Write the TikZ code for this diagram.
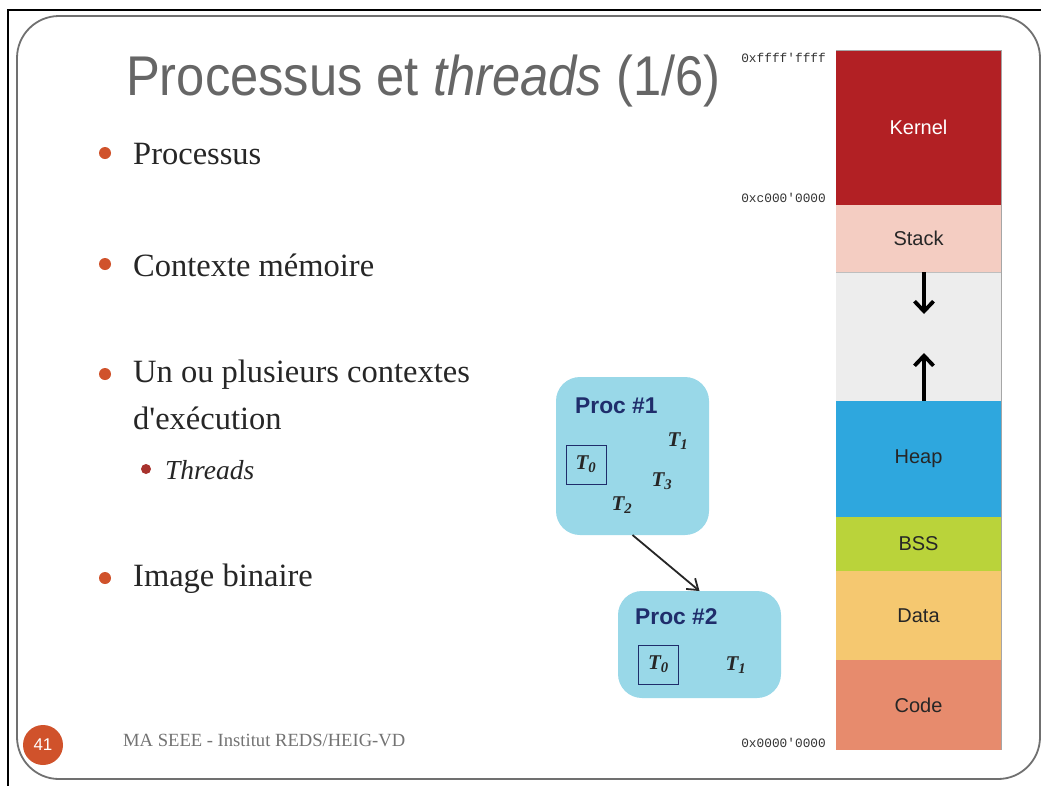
\documentclass[tikz,border=0pt]{standalone}
\usepackage{fontspec}
\setmainfont{Liberation Serif}
\newfontfamily\arialf{Liberation Sans}
\newfontfamily\monof{Liberation Mono}
\usetikzlibrary{arrows.meta}
\definecolor{titlegray}{HTML}{666666}
\definecolor{bulorange}{HTML}{D0522B}
\definecolor{bulred}{HTML}{A8322D}
\definecolor{kernelc}{HTML}{B22024}
\definecolor{stackc}{HTML}{F4CDC2}
\definecolor{gapc}{HTML}{EDEDED}
\definecolor{heapc}{HTML}{2EA7DE}
\definecolor{bssc}{HTML}{BAD33A}
\definecolor{datac}{HTML}{F5C870}
\definecolor{codec}{HTML}{E78B6D}
\definecolor{procc}{HTML}{99D8E8}
\definecolor{navy}{HTML}{1F2D6B}
\definecolor{framegray}{HTML}{707070}
\tikzset{
  seg/.style={minimum width=165pt, inner sep=0pt, outer sep=0pt, font=\arialf\fontsize{20}{22}\selectfont, text=black!85},
  addr/.style={anchor=east, font=\monof\fontsize{12.8}{14}\selectfont, text=black!80, inner sep=0pt},
  bul/.style={anchor=west, font=\fontsize{32.5}{36}\selectfont, text=black!85, inner sep=0pt},
  dot/.style={circle, fill=bulorange, inner sep=0pt, minimum size=12pt},
  procbox/.style={rounded corners=24pt, fill=procc, inner sep=0pt, outer sep=0pt},
  proctitle/.style={font=\arialf\bfseries\fontsize{22.8}{25}\selectfont, text=navy, inner sep=0pt},
  thr/.style={font=\bfseries\itshape\fontsize{21}{23}\selectfont, text=black!85, inner sep=0pt},
  thrbox/.style={draw=navy, line width=1pt, minimum width=40pt, minimum height=39pt, inner sep=0pt},
  memarrow/.style={line width=3.8pt, -{Straight Barb[length=10pt, width=19pt, line width=3.8pt]}},
}
\begin{document}
\begin{tikzpicture}[x=1pt, y=-1pt]
\useasboundingbox (0,0) rectangle (1041,785);
\fill[white] (0,0) rectangle (1041,785);
% outer frame
\draw[line width=2.2pt] (8,1000) -- (8,10) -- (1100,10);
\draw[framegray, line width=1.8pt, rounded corners=42pt] (17,16) rectangle (1040,779);
% title
\node[anchor=west, inner sep=0pt, text=titlegray, font=\arialf\fontsize{56}{60}\selectfont, xscale=0.905] (title) at (126,81) {Processus et \textit{threads} (1/6)};
% bullets
\node[bul] (b1) at (133,154) {Processus};
\node[bul] (b2) at (133,265) {Contexte mémoire};
\node[bul] (b3) at (133,375) {Un ou plusieurs contextes};
\node[bul] (b3b) at (133,418) {d\textquotesingle exécution};
\node[bul, font=\itshape\fontsize{27.5}{30}\selectfont] (b4) at (165,470) {Threads};
\node[bul] (b5) at (133,579) {Image binaire};
\node[dot] (d1) at (105,153) {};
\node[dot] (d2) at (105,264) {};
\node[dot] (d3) at (105,374) {};
\node[dot, fill=bulred, minimum size=10pt] (d4) at (146,469) {};
\node[dot] (d5) at (105,578) {};
% footer
\node[circle, fill=bulorange, minimum size=40pt, inner sep=0pt, text=white, font=\arialf\fontsize{17}{19}\selectfont] (pg) at (43,745) {41};
\node[anchor=west, inner sep=0pt, text=black!55, font=\fontsize{18.6}{20}\selectfont] (foot) at (123,740) {MA SEEE - Institut REDS/HEIG-VD};
% memory map
\node[seg, fill=kernelc, minimum height=155pt, text=white] (kernel) at (918.5,127.5) {Kernel};
\node[seg, fill=stackc, minimum height=67pt, anchor=north] (stack) at (kernel.south) {Stack};
\node[seg, fill=gapc, minimum height=129pt, anchor=north] (gap) at (stack.south) {};
\node[seg, fill=heapc, minimum height=116pt, anchor=north] (heap) at (gap.south) {Heap};
\node[seg, fill=bssc, minimum height=54pt, anchor=north] (bss) at (heap.south) {BSS};
\node[seg, fill=datac, minimum height=89pt, anchor=north] (data) at (bss.south) {Data};
\node[seg, fill=codec, minimum height=90pt, anchor=north] (code) at (data.south) {Code};
\draw[black!35, line width=0.8pt] (kernel.north west) -- (kernel.north east) -- (code.south east);
\draw[gapc!80!black, line width=0.6pt] (stack.south west) -- (stack.south east);
\coordinate (dnend) at ([xshift=5.5pt, yshift=-42pt]stack.south);
\coordinate (upend) at ([xshift=5.5pt, yshift=48pt]heap.north);
\draw[memarrow] ([xshift=5.5pt]stack.south) -- (dnend);
\draw[memarrow] ([xshift=5.5pt]heap.north) -- (upend);
\node[addr] (a1) at (826,58) {0xffff\textquotesingle ffff};
\node[addr] (a2) at (826,198) {0xc000\textquotesingle 0000};
\node[addr] (a3) at (826,743) {0x0000\textquotesingle 0000};
% processes
\node[procbox, minimum width=153pt, minimum height=158pt] (p1) at (632.5,456) {};
\node[procbox, minimum width=163pt, minimum height=107pt] (p2) at (699.5,644.5) {};
\node[proctitle, anchor=west] (p1t) at (575,406) {Proc \#1};
\node[thrbox] (p1t0) at (586,464.5) {};
\node[thr] (p1t0l) at (586,464) {T\textsubscript{0}};
\node[thr] (p1t1) at (678,441) {T\textsubscript{1}};
\node[thr] (p1t3) at (662,481) {T\textsubscript{3}};
\node[thr] (p1t2) at (622,505) {T\textsubscript{2}};
\node[proctitle, anchor=west] (p2t) at (635,617) {Proc \#2};
\node[thrbox] (p2t0) at (658.5,665) {};
\node[thr] (p2t0l) at (658.5,664.5) {T\textsubscript{0}};
\node[thr] (p2t1) at (736,665) {T\textsubscript{1}};
\draw[line width=1.8pt, -{Straight Barb[length=10pt, width=14pt, line width=1.8pt]}, black!85] (p1.south) -- (p2.north);
\end{tikzpicture}
\end{document}
